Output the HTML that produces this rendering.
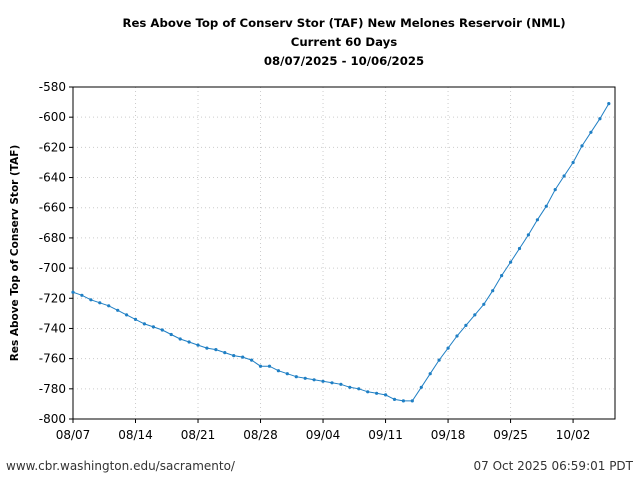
<!DOCTYPE html>
<html><head><meta charset="utf-8"><style>
body{margin:0;background:#fff;width:640px;height:480px;overflow:hidden;font-family:"DejaVu Sans","Liberation Sans",sans-serif}
</style></head><body>
<svg id="s" width="640" height="480" xmlns="http://www.w3.org/2000/svg" font-family="DejaVu Sans, Liberation Sans, sans-serif">
<rect width="640" height="480" fill="#fff"/>
<text x="344" y="27" text-anchor="middle" font-size="11.7" font-weight="bold">Res Above Top of Conserv Stor (TAF) New Melones Reservoir (NML)</text>
<text x="344" y="46" text-anchor="middle" font-size="11.7" font-weight="bold">Current 60 Days</text>
<text x="344" y="65" text-anchor="middle" font-size="11.7" font-weight="bold">08/07/2025 - 10/06/2025</text>
<text transform="translate(18,253) rotate(-90)" text-anchor="middle" font-size="10.5" font-weight="bold">Res Above Top of Conserv Stor (TAF)</text>
<text x="6" y="470" font-size="12" fill="#333">www.cbr.washington.edu/sacramento/</text>
<text x="633" y="470" text-anchor="end" font-size="12" fill="#333">07 Oct 2025 06:59:01 PDT</text>
<g id="g"></g>
</svg>
<script>
var g=document.getElementById('g'),h='';
var X0=73,X1=615,Y0=87,Y1=419;
function yv(v){return Y0+(-580-v)*(Y1-Y0)/220;}
function xd(d){return X0+d*8.93;}
for(var v=-580;v>=-800;v-=20){var y=yv(v);
 h+='<line x1="'+X0+'" x2="'+X1+'" y1="'+y+'" y2="'+y+'" stroke="#ccc" stroke-dasharray="1,3"/>';
 h+='<line x1="'+(X0-4)+'" x2="'+X0+'" y1="'+y+'" y2="'+y+'" stroke="#000"/>';
 h+='<text x="'+(X0-7)+'" y="'+(y+4)+'" text-anchor="end" font-size="12">'+v+'</text>';}
var lab=['08/07','08/14','08/21','08/28','09/04','09/11','09/18','09/25','10/02'];
for(var i=0;i<lab.length;i++){var x=xd(i*7);
 h+='<line x1="'+x+'" x2="'+x+'" y1="'+Y0+'" y2="'+Y1+'" stroke="#ccc" stroke-dasharray="1,3"/>';
 h+='<line x1="'+x+'" x2="'+x+'" y1="'+Y1+'" y2="'+(Y1+4)+'" stroke="#000"/>';
 h+='<text x="'+x+'" y="'+(Y1+20)+'" text-anchor="middle" font-size="12">'+lab[i]+'</text>';}
h+='<rect x="'+X0+'" y="'+Y0+'" width="'+(X1-X0)+'" height="'+(Y1-Y0)+'" fill="none" stroke="#000"/>';
var d=[-716,-718,-721,-723,-725,-728,-731,-734,-737,-739,-741,-744,-747,-749,-751,-753,-754,-756,-758,-759,-761,-765,-765,-768,-770,-772,-773,-774,-775,-776,-777,-779,-780,-782,-783,-784,-787,-788,-788,-779,-770,-761,-753,-745,-738,-731,-724,-715,-705,-696,-687,-678,-668,-659,-648,-639,-630,-619,-610,-601,-591];
var p='';for(var i=0;i<d.length;i++){p+=(i?'L':'M')+xd(i).toFixed(1)+','+yv(d[i]).toFixed(1);}
h+='<path d="'+p+'" fill="none" stroke="#1f7fc4" stroke-width="1"/>';
for(var i=0;i<d.length;i++){h+='<circle cx="'+xd(i).toFixed(1)+'" cy="'+yv(d[i]).toFixed(1)+'" r="1.6" fill="#1f7fc4"/>';}
g.innerHTML=h;
</script>
</body></html>
